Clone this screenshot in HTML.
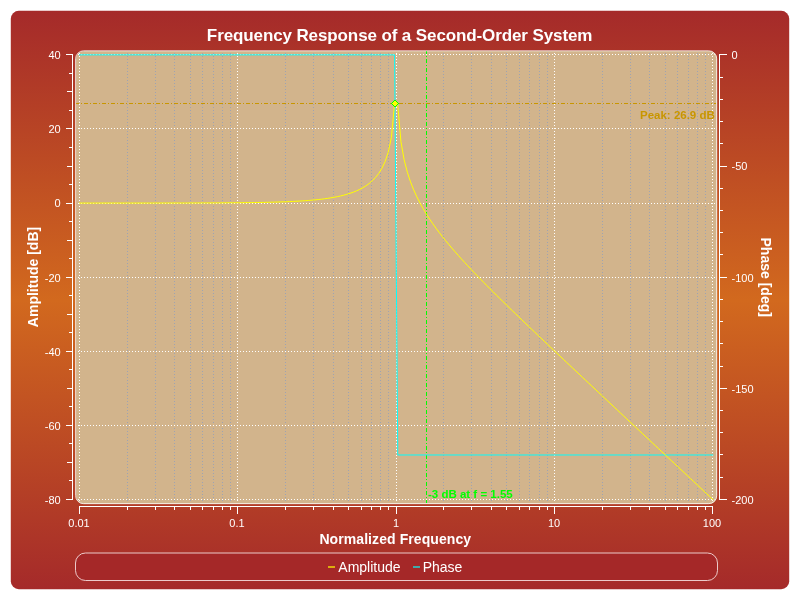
<!DOCTYPE html><html><head><meta charset="utf-8"><style>html,body{margin:0;padding:0;background:#fff;}svg{display:block;will-change:transform;}text{font-family:"Liberation Sans",sans-serif;}</style></head><body>
<svg width="800" height="600" viewBox="0 0 800 600">
<defs><linearGradient id="bg" x1="0" y1="11" x2="0" y2="589" gradientUnits="userSpaceOnUse"><stop offset="0" stop-color="#a52a2a"/><stop offset="0.5" stop-color="#d2691e"/><stop offset="1" stop-color="#a52a2a"/></linearGradient><clipPath id="cv"><rect x="76" y="51" width="640" height="452" rx="8" ry="8"/></clipPath></defs>
<rect x="10.8" y="10.8" width="778.4" height="578.4" rx="8" ry="8" fill="url(#bg)"/>
<text x="399.6" y="40.8" text-anchor="middle" fill="#fff" font-weight="bold" font-size="17" letter-spacing="-0.11">Frequency Response of a Second-Order System</text>
<rect x="76" y="51" width="641" height="453" rx="8" ry="8" fill="#d2b48c"/>
<g clip-path="url(#cv)" shape-rendering="crispEdges">
<path d="M127.5 50V504M155.5 50V504M174.5 50V504M190.5 50V504M202.5 50V504M213.5 50V504M222.5 50V504M230.5 50V504M285.5 50V504M313.5 50V504M333.5 50V504M348.5 50V504M361.5 50V504M371.5 50V504M380.5 50V504M388.5 50V504M443.5 50V504M471.5 50V504M491.5 50V504M506.5 50V504M519.5 50V504M529.5 50V504M539.5 50V504M547.5 50V504M602.5 50V504M630.5 50V504M649.5 50V504M665.5 50V504M677.5 50V504M688.5 50V504M697.5 50V504M705.5 50V504" stroke="#9ea3b2" stroke-width="1" stroke-dasharray="1 2" fill="none"/>
<path d="M79.5 50V504M237.5 50V504M396.5 50V504M554.5 50V504M712.5 50V504M75 54.5H717M75 128.5H717M75 203.5H717M75 277.5H717M75 351.5H717M75 425.5H717M75 499.5H717" stroke="#fff" stroke-width="1" stroke-dasharray="1 2" fill="none"/>
<path d="M75 103.5H717" stroke="#c89600" stroke-width="1" stroke-dasharray="4 2 1 2" fill="none"/>
<path d="M426.5 50V504" stroke="#00ff00" stroke-width="1" stroke-dasharray="4 2 1 2" fill="none"/>
</g>
<g clip-path="url(#cv)">
<polyline points="79.56,54.88 82.74,54.88 85.92,54.88 89.11,54.88 92.29,54.88 95.47,54.88 98.65,54.88 101.83,54.88 105.02,54.88 108.20,54.88 111.38,54.88 114.56,54.88 117.74,54.88 120.93,54.88 124.11,54.88 127.29,54.88 130.47,54.88 133.66,54.88 136.84,54.88 140.02,54.88 143.20,54.88 146.38,54.88 149.57,54.88 152.75,54.88 155.93,54.88 159.11,54.88 162.29,54.88 165.48,54.88 168.66,54.88 171.84,54.88 175.02,54.88 178.21,54.88 181.39,54.88 184.57,54.88 187.75,54.88 190.93,54.88 194.12,54.88 197.30,54.88 200.48,54.88 203.66,54.88 206.85,54.88 210.03,54.88 213.21,54.88 216.39,54.88 219.57,54.88 222.76,54.88 225.94,54.88 229.12,54.88 232.30,54.88 235.48,54.88 238.67,54.88 241.85,54.88 245.03,54.88 248.21,54.88 251.40,54.88 254.58,54.88 257.76,54.88 260.94,54.88 264.12,54.88 267.31,54.88 270.49,54.88 273.67,54.88 276.85,54.88 280.04,54.88 283.22,54.88 286.40,54.88 289.58,54.88 292.76,54.88 295.95,54.88 299.13,54.88 302.31,54.88 305.49,54.88 308.67,54.88 311.86,54.88 315.04,54.88 318.22,54.88 321.40,54.88 324.59,54.88 327.77,54.88 330.95,54.88 334.13,54.88 337.31,54.88 340.50,54.88 343.68,54.88 346.86,54.88 350.04,54.88 353.23,54.88 356.41,54.88 359.59,54.88 362.77,54.88 365.95,54.88 369.14,54.88 372.32,54.88 375.50,54.88 378.68,54.88 381.86,54.88 385.05,54.88 388.23,54.88 391.41,54.88 394.59,54.88 397.78,454.99 400.96,454.99 404.14,454.99 407.32,454.99 410.50,454.99 413.69,454.99 416.87,454.99 420.05,454.99 423.23,454.99 426.42,454.99 429.60,454.99 432.78,454.99 435.96,454.99 439.14,454.99 442.33,454.99 445.51,454.99 448.69,454.99 451.87,454.99 455.05,454.99 458.24,454.99 461.42,454.99 464.60,454.99 467.78,454.99 470.97,454.99 474.15,454.99 477.33,454.99 480.51,454.99 483.69,454.99 486.88,454.99 490.06,454.99 493.24,454.99 496.42,454.99 499.61,454.99 502.79,454.99 505.97,454.99 509.15,454.99 512.33,454.99 515.52,454.99 518.70,454.99 521.88,454.99 525.06,454.99 528.24,454.99 531.43,454.99 534.61,454.99 537.79,454.99 540.97,454.99 544.16,454.99 547.34,454.99 550.52,454.99 553.70,454.99 556.88,454.99 560.07,454.99 563.25,454.99 566.43,454.99 569.61,454.99 572.79,454.99 575.98,454.99 579.16,454.99 582.34,454.99 585.52,454.99 588.71,454.99 591.89,454.99 595.07,454.99 598.25,454.99 601.43,454.99 604.62,454.99 607.80,454.99 610.98,454.99 614.16,454.99 617.35,454.99 620.53,454.99 623.71,454.99 626.89,454.99 630.07,454.99 633.26,454.99 636.44,454.99 639.62,454.99 642.80,454.99 645.98,454.99 649.17,454.99 652.35,454.99 655.53,454.99 658.71,454.99 661.90,454.99 665.08,454.99 668.26,454.99 671.44,454.99 674.62,454.99 677.81,454.99 680.99,454.99 684.17,454.99 687.35,454.99 690.54,454.99 693.72,454.99 696.90,454.99 700.08,454.99 703.26,454.99 706.45,454.99 709.63,454.99 712.81,454.99" fill="none" stroke="#00ffff" stroke-width="1" stroke-linejoin="bevel" stroke-linecap="square"/>
<polyline points="79.56,203.07 82.74,203.07 85.92,203.07 89.11,203.07 92.29,203.07 95.47,203.06 98.65,203.06 101.83,203.06 105.02,203.06 108.20,203.06 111.38,203.06 114.56,203.06 117.74,203.06 120.93,203.06 124.11,203.06 127.29,203.06 130.47,203.06 133.66,203.05 136.84,203.05 140.02,203.05 143.20,203.05 146.38,203.05 149.57,203.05 152.75,203.04 155.93,203.04 159.11,203.04 162.29,203.03 165.48,203.03 168.66,203.03 171.84,203.02 175.02,203.02 178.21,203.01 181.39,203.01 184.57,203.00 187.75,203.00 190.93,202.99 194.12,202.98 197.30,202.97 200.48,202.96 203.66,202.95 206.85,202.94 210.03,202.93 213.21,202.91 216.39,202.90 219.57,202.88 222.76,202.86 225.94,202.84 229.12,202.82 232.30,202.80 235.48,202.77 238.67,202.74 241.85,202.71 245.03,202.67 248.21,202.63 251.40,202.59 254.58,202.54 257.76,202.49 260.94,202.43 264.12,202.37 267.31,202.30 270.49,202.23 273.67,202.15 276.85,202.05 280.04,201.95 283.22,201.84 286.40,201.72 289.58,201.59 292.76,201.44 295.95,201.28 299.13,201.10 302.31,200.90 305.49,200.68 308.67,200.44 311.86,200.18 315.04,199.88 318.22,199.55 321.40,199.19 324.59,198.79 327.77,198.34 330.95,197.84 334.13,197.29 337.31,196.67 340.50,195.97 343.68,195.19 346.86,194.32 350.04,193.33 353.23,192.20 356.41,190.92 359.59,189.46 362.77,187.77 365.95,185.82 369.14,183.52 372.32,180.80 375.50,177.53 378.68,173.50 381.86,168.42 385.05,161.73 388.23,152.32 391.41,137.33 394.59,103.44 397.78,104.93 400.96,141.80 404.14,159.77 407.32,172.16 410.50,181.82 413.69,189.88 416.87,196.89 420.05,203.14 423.23,208.84 426.42,214.11 429.60,219.05 432.78,223.71 435.96,228.16 439.14,232.41 442.33,236.52 445.51,240.49 448.69,244.34 451.87,248.10 455.05,251.77 458.24,255.37 461.42,258.91 464.60,262.38 467.78,265.81 470.97,269.19 474.15,272.53 477.33,275.84 480.51,279.11 483.69,282.36 486.88,285.58 490.06,288.77 493.24,291.95 496.42,295.11 499.61,298.25 502.79,301.37 505.97,304.49 509.15,307.59 512.33,310.68 515.52,313.76 518.70,316.82 521.88,319.89 525.06,322.94 528.24,325.99 531.43,329.03 534.61,332.06 537.79,335.09 540.97,338.12 544.16,341.14 547.34,344.16 550.52,347.17 553.70,350.18 556.88,353.19 560.07,356.20 563.25,359.20 566.43,362.20 569.61,365.20 572.79,368.20 575.98,371.19 579.16,374.19 582.34,377.18 585.52,380.17 588.71,383.16 591.89,386.15 595.07,389.14 598.25,392.13 601.43,395.11 604.62,398.10 607.80,401.08 610.98,404.07 614.16,407.05 617.35,410.04 620.53,413.02 623.71,416.00 626.89,418.99 630.07,421.97 633.26,424.95 636.44,427.93 639.62,430.91 642.80,433.89 645.98,436.87 649.17,439.86 652.35,442.84 655.53,445.82 658.71,448.80 661.90,451.78 665.08,454.76 668.26,457.74 671.44,460.72 674.62,463.70 677.81,466.68 680.99,469.65 684.17,472.63 687.35,475.61 690.54,478.59 693.72,481.57 696.90,484.55 700.08,487.53 703.26,490.51 706.45,493.49 709.63,496.47 712.81,499.45" fill="none" stroke="#ffff00" stroke-width="1" stroke-linejoin="bevel" stroke-linecap="square"/>
</g>
<path shape-rendering="crispEdges" fill="#00ff00" d="M394 100h2v1h-2zM393 101h1v1h-1zM396 101h1v1h-1zM392 102h1v1h-1zM397 102h1v1h-1zM391 103h1v1h-1zM398 103h1v1h-1zM392 104h1v1h-1zM397 104h1v1h-1zM393 105h1v1h-1zM396 105h1v1h-1zM394 106h2v1h-2z"/>
<path shape-rendering="crispEdges" fill="#ffff00" d="M394 101h2v1h-2zM393 102h4v1h-4zM392 103h6v1h-6zM393 104h4v1h-4zM394 105h2v1h-2z"/>
<g clip-path="url(#cv)">
<text x="714.8" y="118.7" text-anchor="end" fill="#c89600" font-weight="bold" font-size="11.5">Peak: 26.9 dB</text>
<text x="428" y="498" fill="#00ff00" font-weight="bold" font-size="11.5">-3 dB at f = 1.55</text>
</g>
<rect x="75.6" y="50.8" width="641.1" height="452.85" rx="8" ry="8" fill="none" stroke="#fff" stroke-opacity="0.8" stroke-width="1"/>
<g shape-rendering="crispEdges" stroke="#fff" stroke-width="1" fill="none">
<path d="M72.5 54V500M66 54.5H72M69 73.5H72M67 91.5H72M69 110.5H72M66 128.5H72M69 147.5H72M67 166.5H72M69 184.5H72M66 203.5H72M69 221.5H72M67 240.5H72M69 258.5H72M66 277.5H72M69 295.5H72M67 314.5H72M69 332.5H72M66 351.5H72M69 369.5H72M67 388.5H72M69 406.5H72M66 425.5H72M69 443.5H72M67 462.5H72M69 480.5H72M66 499.5H72M719.5 54V500M720 54.5H727M720 77.5H723M720 99.5H723M720 121.5H723M720 143.5H723M720 166.5H727M720 188.5H723M720 210.5H723M720 232.5H723M720 254.5H723M720 277.5H727M720 299.5H723M720 321.5H723M720 343.5H723M720 366.5H723M720 388.5H727M720 410.5H723M720 432.5H723M720 454.5H723M720 477.5H723M720 499.5H727M79 506.5H713M127.5 507V510M155.5 507V510M174.5 507V510M190.5 507V510M202.5 507V510M213.5 507V510M222.5 507V510M230.5 507V510M285.5 507V510M313.5 507V510M333.5 507V510M348.5 507V510M361.5 507V510M371.5 507V510M380.5 507V510M388.5 507V510M443.5 507V510M471.5 507V510M491.5 507V510M506.5 507V510M519.5 507V510M529.5 507V510M539.5 507V510M547.5 507V510M602.5 507V510M630.5 507V510M649.5 507V510M665.5 507V510M677.5 507V510M688.5 507V510M697.5 507V510M705.5 507V510M79.5 507V514M237.5 507V514M396.5 507V514M554.5 507V514M712.5 507V514"/>
</g>
<g fill="#fff" font-size="11">
<text x="60.7" y="59" text-anchor="end">40</text>
<text x="60.7" y="133" text-anchor="end">20</text>
<text x="60.7" y="207" text-anchor="end">0</text>
<text x="60.7" y="282" text-anchor="end">-20</text>
<text x="60.7" y="356" text-anchor="end">-40</text>
<text x="60.7" y="430" text-anchor="end">-60</text>
<text x="60.7" y="504" text-anchor="end">-80</text>
<text x="731.5" y="59">0</text>
<text x="731.5" y="170">-50</text>
<text x="731.5" y="282">-100</text>
<text x="731.5" y="393">-150</text>
<text x="731.5" y="504">-200</text>
<text x="79.0" y="527" text-anchor="middle">0.01</text>
<text x="237.0" y="527" text-anchor="middle">0.1</text>
<text x="396.0" y="527" text-anchor="middle">1</text>
<text x="554.0" y="527" text-anchor="middle">10</text>
<text x="712.0" y="527" text-anchor="middle">100</text>
</g>
<g fill="#fff" font-weight="bold" font-size="14">
<text transform="translate(38,277) rotate(-90)" text-anchor="middle">Amplitude [dB]</text>
<text transform="translate(761.3,277.2) rotate(90)" text-anchor="middle">Phase [deg]</text>
<text x="395.3" y="544" text-anchor="middle" letter-spacing="0.08">Normalized Frequency</text>
</g>
<rect x="75.5" y="553" width="642" height="27.5" rx="10" ry="10" fill="#a52828" stroke="#f4dada" stroke-opacity="0.9" stroke-width="1"/>
<rect x="328" y="566" width="7" height="2" fill="#ffff00" fill-opacity="0.62"/>
<rect x="413" y="566" width="7" height="2" fill="#00ffff" fill-opacity="0.6"/>
<g fill="#fff" font-size="14"><text x="338.3" y="571.5">Amplitude</text><text x="422.7" y="571.5">Phase</text></g>
</svg></body></html>
